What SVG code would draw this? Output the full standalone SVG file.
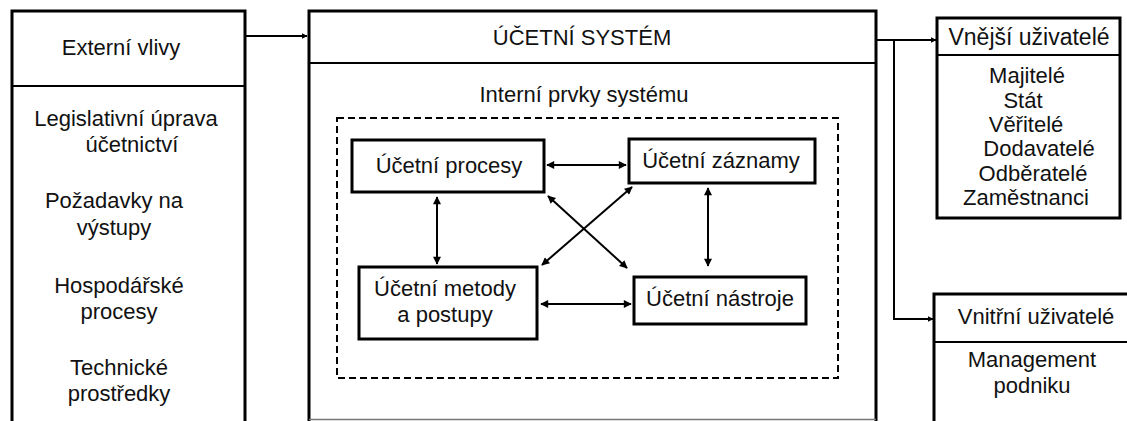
<svg xmlns="http://www.w3.org/2000/svg" width="1127" height="421" viewBox="0 0 1127 421">
<defs>
<marker id="ah" viewBox="0 0 10 10" refX="9" refY="5" markerWidth="9" markerHeight="8" markerUnits="userSpaceOnUse" orient="auto-start-reverse">
<path d="M0,0 L10,5 L0,10 Z" fill="#000"/>
</marker>
<marker id="ahs" viewBox="0 0 10 10" refX="9" refY="5" markerWidth="6" markerHeight="6" markerUnits="userSpaceOnUse" orient="auto">
<path d="M0,0 L10,5 L0,10 Z" fill="#000"/>
</marker>
<style>
text{font-family:"Liberation Sans",Arial,sans-serif;font-size:22px;fill:#111;text-anchor:middle}
.box{fill:#fff;stroke:#000;stroke-width:3}
.sep{stroke:#000;stroke-width:2}
.con{fill:none;stroke:#000;stroke-width:2}
.bi{fill:none;stroke:#000;stroke-width:2;marker-start:url(#ah);marker-end:url(#ah)}
.dash{fill:none;stroke:#000;stroke-width:2;stroke-dasharray:7,4}
</style>
</defs>
<rect width="1127" height="421" fill="#fff"/>

<g id="externi-vlivy">
<path class="box" d="M12,430 V11 H245 V430"/>
<line class="sep" x1="12" y1="86" x2="245" y2="86"/>
<text x="121" y="55">Externí vlivy</text>
<text x="126" y="126">Legislativní úprava</text>
<text x="132" y="152">účetnictví</text>
<text x="114" y="208">Požadavky na</text>
<text x="114" y="235">výstupy</text>
<text x="119" y="293">Hospodářské</text>
<text x="119" y="319">procesy</text>
<text x="119" y="375">Technické</text>
<text x="119" y="401">prostředky</text>
</g>

<g id="ucetni-system">
<path class="box" d="M309,430 V11 H876 V430"/>
<line x1="309" y1="419.5" x2="876" y2="419.5" stroke="#777" stroke-width="1.5"/>
<line class="sep" x1="309" y1="63" x2="876" y2="63"/>
<text x="582" y="45">ÚČETNÍ SYSTÉM</text>
<text x="584" y="102">Interní prvky systému</text>
<rect class="dash" x="337" y="118" width="501" height="260"/>
</g>

<g id="ucetni-procesy">
<rect class="box" x="352" y="140" width="192" height="52"/>
<text x="449" y="173">Účetní procesy</text>
</g>
<g id="ucetni-zaznamy">
<rect class="box" x="629" y="139" width="186" height="44"/>
<text x="721" y="168">Účetní záznamy</text>
</g>
<g id="ucetni-metody">
<rect class="box" x="359" y="267" width="178" height="72"/>
<text x="445" y="296">Účetní metody</text>
<text x="445" y="322">a postupy</text>
</g>
<g id="ucetni-nastroje">
<rect class="box" x="634" y="277" width="172" height="47"/>
<text x="720" y="306">Účetní nástroje</text>
</g>

<g id="vnejsi-uzivatele">
<rect class="box" x="937" y="18" width="183" height="200"/>
<line class="sep" x1="937" y1="55" x2="1120" y2="55"/>
<text x="1029" y="45" style="font-size:23px">Vnější uživatelé</text>
<text x="1027" y="83">Majitelé</text>
<text x="1023" y="108">Stát</text>
<text x="1026" y="132">Věřitelé</text>
<text x="1039" y="156">Dodavatelé</text>
<text x="1033" y="181">Odběratelé</text>
<text x="1026" y="205">Zaměstnanci</text>
</g>

<g id="vnitrni-uzivatele">
<path class="box" d="M934,430 V294 H1135"/>
<line class="sep" x1="934" y1="342" x2="1130" y2="342"/>
<text x="1036" y="324">Vnitřní uživatelé</text>
<text x="1032" y="367">Management</text>
<text x="1032" y="393">podniku</text>
</g>

<g id="connectors">
<line class="con" x1="245" y1="36" x2="307" y2="36" marker-end="url(#ahs)"/>
<line class="con" x1="876" y1="40" x2="936" y2="40" marker-end="url(#ahs)"/>
<path class="con" d="M894,40 V319 H933" marker-end="url(#ahs)"/>
<line class="bi" x1="547" y1="165" x2="626" y2="165"/>
<line class="bi" x1="541" y1="304" x2="631" y2="304"/>
<line class="bi" x1="437" y1="197" x2="437" y2="264"/>
<line class="bi" x1="708" y1="188" x2="708" y2="266"/>
<line class="bi" x1="548" y1="196" x2="627" y2="268"/>
<line class="bi" x1="632" y1="187" x2="542" y2="265"/>
</g>
</svg>
